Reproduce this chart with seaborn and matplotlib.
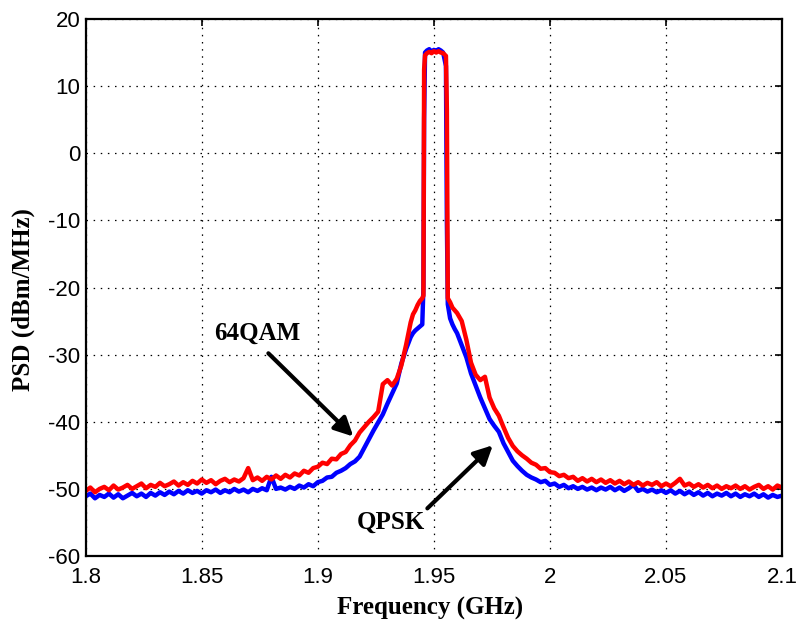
import numpy as np
import pandas as pd
import matplotlib
matplotlib.use("Agg")
import matplotlib.pyplot as plt
import seaborn as sns

# ---------------- data ----------------
# frequency sampling grid (GHz)
freq_left = np.round(np.arange(1.800, 1.9401, 0.002), 4)          # 71 pts
freq_left_fine = [1.941, 1.942, 1.943, 1.944, 1.945]
freq_peak = [1.9455, 1.9458, 1.9462, 1.947, 1.948, 1.949, 1.950, 1.951,
             1.952, 1.953, 1.954, 1.9552, 1.9556, 1.9560]
freq_right_fine = [1.957, 1.958, 1.959]
freq_right = np.round(np.arange(1.960, 2.1001, 0.002), 4)         # 71 pts
freq_ghz = np.concatenate([freq_left, freq_left_fine, freq_peak,
                           freq_right_fine, freq_right])

# 64QAM PSD (dBm/MHz)
psd_64qam_left = [
    -50.3, -49.8, -50.5, -50.0, -49.7, -50.2, -49.5, -50.1, -49.8, -49.4,
    -50.0, -49.6, -49.2, -49.9, -49.4, -49.7, -49.1, -49.6, -49.3, -48.9,
    -49.5, -49.0, -49.4, -48.8, -49.2, -48.6, -49.1, -48.7, -49.3, -48.8,
    -48.5, -49.0, -48.6, -48.9, -48.4, -46.9, -48.7, -48.3, -48.8, -48.2,
    -48.6, -48.0, -48.5, -47.9, -48.3, -47.7, -48.0, -47.3, -47.6, -46.9,
    -46.7, -46.1, -46.3, -45.5, -45.6, -44.8, -44.5, -43.5, -42.8, -41.6,
    -40.8, -40.0, -39.3, -38.5, -34.4, -33.8, -34.6, -33.6, -31.6, -28.6,
    -25.2]
psd_64qam_left_fine = [-24.0, -23.4, -22.6, -22.0, -21.6]
psd_64qam_peak = [-21.2, 12.5, 14.6, 14.9, 15.1, 14.9, 15.2, 15.0,
                  15.2, 15.0, 14.9, 14.5, 6.5, -21.6]
psd_64qam_right_fine = [-22.2, -23.0, -23.4]
psd_64qam_right = [
    -23.8, -25.0, -27.8, -31.2, -33.0, -33.8, -33.3, -36.4, -38.0, -39.1,
    -40.8, -42.4, -43.6, -44.4, -45.0, -45.5, -46.1, -46.4, -47.0, -46.9,
    -47.5, -47.6, -48.1, -47.9, -48.4, -48.2, -48.8, -48.4, -48.9, -48.5,
    -49.0, -48.6, -49.1, -48.7, -49.2, -48.8, -49.3, -48.9, -49.4, -49.0,
    -49.5, -49.1, -49.4, -49.0, -49.6, -49.2, -49.6, -49.1, -48.5, -49.5,
    -49.2, -49.7, -49.3, -49.8, -49.4, -49.9, -49.5, -50.0, -49.6, -49.9,
    -49.5, -50.0, -49.6, -50.1, -49.7, -49.4, -50.0, -49.6, -50.1, -49.5,
    -49.8]

# QPSK PSD (dBm/MHz)
psd_qpsk_left = [
    -51.1, -50.7, -51.4, -50.9, -51.2, -50.7, -51.3, -50.8, -51.4, -51.0,
    -50.6, -51.1, -50.7, -51.2, -50.6, -51.0, -50.5, -50.9, -50.4, -50.8,
    -50.3, -50.7, -50.2, -50.6, -50.3, -50.7, -50.2, -50.5, -50.1, -50.6,
    -50.2, -50.5, -50.0, -50.4, -50.1, -50.5, -50.0, -50.3, -49.9, -50.2,
    -48.2, -50.0, -49.8, -50.1, -49.7, -50.0, -49.5, -49.8, -49.3, -49.6,
    -49.0, -48.8, -48.3, -48.2, -47.6, -47.3, -46.9, -46.3, -45.9, -45.2,
    -43.9, -42.6, -41.3, -40.1, -38.9, -37.3, -35.8, -34.3, -31.3, -29.2,
    -27.4]
psd_qpsk_left_fine = [-26.8, -26.4, -26.1, -25.8, -25.5]
psd_qpsk_peak = [-20.0, 5.2, 15.0, 15.3, 15.5, 15.1, 15.4, 15.2,
                 15.5, 15.3, 15.0, 13.0, -10.0, -22.5]
psd_qpsk_right_fine = [-24.6, -25.5, -26.2]
psd_qpsk_right = [
    -26.8, -28.6, -30.4, -32.8, -34.6, -36.4, -38.0, -39.6, -40.6, -41.5,
    -43.2, -44.5, -45.8, -46.6, -47.3, -47.9, -48.3, -48.6, -49.0, -48.8,
    -49.4, -49.2, -49.7, -49.4, -49.9, -49.6, -50.0, -49.7, -50.1, -49.8,
    -50.2, -49.8, -50.1, -49.7, -50.2, -49.8, -50.3, -49.9, -49.4, -50.3,
    -50.0, -50.4, -50.1, -50.5, -50.2, -50.6, -50.2, -50.7, -50.3, -50.8,
    -50.4, -50.9, -50.5, -51.0, -50.6, -51.1, -50.7, -51.0, -50.6, -51.1,
    -50.7, -51.2, -50.8, -51.1, -50.7, -51.2, -50.8, -51.3, -50.9, -51.2,
    -51.0]

psd_64qam = np.concatenate([psd_64qam_left, psd_64qam_left_fine, psd_64qam_peak,
                            psd_64qam_right_fine, psd_64qam_right])
psd_qpsk = np.concatenate([psd_qpsk_left, psd_qpsk_left_fine, psd_qpsk_peak,
                           psd_qpsk_right_fine, psd_qpsk_right])

series_names = ["QPSK", "64QAM"]
x_ticks = [1.8, 1.85, 1.9, 1.95, 2.0, 2.05, 2.1]
x_tick_labels = ["1.8", "1.85", "1.9", "1.95", "2", "2.05", "2.1"]
y_ticks = [-60, -50, -40, -30, -20, -10, 0, 10, 20]
y_tick_labels = ["-60", "-50", "-40", "-30", "-20", "-10", "0", "10", "20"]

# ---------------- plot ----------------
sns.set_style("white")
plt.rcParams["font.family"] = ["Liberation Sans", "DejaVu Sans"]
plt.rcParams["text.color"] = "black"
plt.rcParams["axes.labelcolor"] = "black"
plt.rcParams["xtick.color"] = "black"
plt.rcParams["ytick.color"] = "black"

n = len(freq_ghz)
df = pd.DataFrame({
    "Frequency": np.concatenate([freq_ghz, freq_ghz]),
    "PSD": np.concatenate([psd_qpsk, psd_64qam]),
    "Signal": [series_names[0]] * n + [series_names[1]] * n,
})

fig = plt.figure(figsize=(7.98, 6.33), dpi=100)
ax = fig.add_axes([0.1074, 0.1216, 0.8726, 0.8484])

sns.lineplot(data=df, x="Frequency", y="PSD", hue="Signal",
             hue_order=series_names,
             palette={"QPSK": "#0000FF", "64QAM": "#FF0000"},
             estimator=None, sort=False, linewidth=3.2, legend=False, ax=ax)

ax.set_xlim(1.8, 2.1)
ax.set_ylim(-60, 20)
ax.set_xticks(x_ticks)
ax.set_xticklabels(x_tick_labels)
ax.set_yticks(y_ticks)
ax.set_yticklabels(y_tick_labels)

ax.grid(True, color="black", linestyle=(0, (1.2, 4.5)), linewidth=0.9)
ax.set_axisbelow(True)
for sp in ax.spines.values():
    sp.set_visible(True)
    sp.set_color("black")
    sp.set_linewidth(1.6)

ax.tick_params(direction="in", length=5, width=1.2, top=True, right=True,
               labelsize=16, colors="black")
ax.tick_params(axis="x", pad=8)
ax.tick_params(axis="y", pad=4)

serif_bold = dict(family=["Liberation Serif", "DejaVu Serif"], weight="bold",
                  size=18, color="black")
ax.set_xlabel("Frequency (GHz)", fontdict=serif_bold)
ax.set_ylabel("PSD (dBm/MHz)", fontdict=serif_bold)
ax.xaxis.set_label_coords(0.495, -0.098)
ax.xaxis.label.set_va("center")
ax.yaxis.set_label_coords(-0.09, 0.478)
ax.yaxis.label.set_va("center")

# annotations
ax.text(1.8738, -26.8, "64QAM", ha="center", va="center", color="black",
        family=["Liberation Serif", "DejaVu Serif"], weight="bold", size=18)
ax.annotate("", xy=(1.9153, -42.2), xytext=(1.8787, -29.8),
            arrowprops=dict(arrowstyle="-|>", color="black", lw=3,
                            mutation_scale=28, shrinkA=0, shrinkB=0))
ax.text(1.9315, -55.0, "QPSK", ha="center", va="center", color="black",
        family=["Liberation Serif", "DejaVu Serif"], weight="bold", size=18)
ax.annotate("", xy=(1.9754, -43.5), xytext=(1.9472, -52.9),
            arrowprops=dict(arrowstyle="-|>", color="black", lw=3,
                            mutation_scale=28, shrinkA=0, shrinkB=0))

fig.savefig("out.png", dpi=100, facecolor="white")
